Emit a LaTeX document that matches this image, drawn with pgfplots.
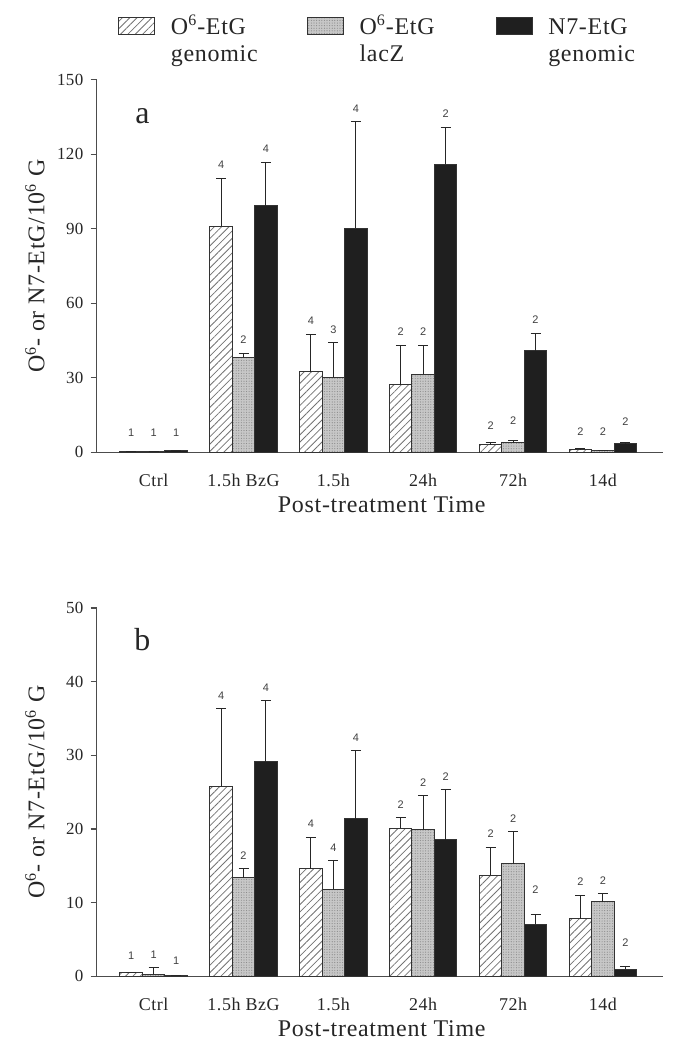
\documentclass[border=0pt]{standalone}
\usepackage{fontspec}
\setmainfont[LetterSpace=3]{Liberation Serif}
\newfontfamily\nfont{Liberation Sans}
\usepackage{pgfplots}
\pgfplotsset{compat=1.18}
\usepackage{pgfplotstable}
\usetikzlibrary{patterns.meta}

% columns: x = time point, y = adducts per 10^6 G, e = error (+), lo = label offset, n = replicates
\pgfplotstableread{
x y e lo n
0 0.3 0 2.1 1
1 91.0 19.4 19.4 4
2 32.5 15.1 15.1 4
3 27.1 16.0 16.0 2
4 3.0 0.9 2.5 2
5 1.0 0.3 1.8 2
}\aHat
\pgfplotstableread{
x y e lo n
0 0.1 0 2.2 1
1 38.2 1.6 1.6 2
2 30.1 13.9 13.9 3
3 31.4 11.6 11.6 2
4 3.8 0.9 3.5 2
5 0.5 0 2.2 2
}\aLac
\pgfplotstableread{
x y e lo n
0 0.5 0 1.9 1
1 99.2 17.7 17.7 4
2 90.3 42.9 42.9 4
3 116.1 14.8 14.8 2
4 40.9 7.1 7.1 2
5 3.3 0.5 3.6 2
}\aNs
\pgfplotstableread{
x y e lo n
0 0.45 0 0.6 1
1 25.8 10.5 10.5 4
2 14.6 4.3 4.3 4
3 20.1 1.4 1.4 2
4 13.7 3.8 3.8 2
5 7.8 3.2 3.2 2
}\bHat
\pgfplotstableread{
x y e lo n
0 0.27 0.9 0.9 1
1 13.4 1.2 1.2 2
2 11.8 3.9 3.9 4
3 19.9 4.6 4.6 2
4 15.3 4.3 4.3 2
5 10.1 1.1 1.1 2
}\bLac
\pgfplotstableread{
x y e lo n
0 0.14 0 0.13 1
1 29.1 8.3 8.3 4
2 21.4 9.2 9.2 4
3 18.5 6.8 6.8 2
4 7.05 1.35 2.85 2
5 0.95 0.35 1.8 2
}\bNs

\pgfplotsset{
  panel/.style={
    scale only axis, width=284pt,
    xmin=-0.636, xmax=5.674, ymin=0,
    axis x line*=bottom, axis y line*=left,
    axis line style={-, black!70, line width=0.6pt},
    xtick={0,...,5}, xticklabels={Ctrl,1.5h BzG,1.5h,24h,72h,14d},
    xtick style={draw=none},
    ytick style={black!70, line width=0.6pt},
    tick align=outside, major tick length=3pt,
    /pgf/number format/assume math mode=true,
    xticklabel style={font=\fontsize{9}{9}\selectfont, text=black!85, anchor=base, yshift=-14pt},
    yticklabel style={font=\fontsize{8.5}{8.5}\selectfont, text=black!85},
    xlabel={Post-treatment Time},
    xlabel style={at={(axis description cs:0.503,0)}, anchor=base, yshift=-30pt, font=\fontsize{12}{12}\selectfont, text=black!85},
    ylabel={O\textsuperscript{6}- or N7-EtG/10\textsuperscript{6} G},
    ylabel style={at={(axis description cs:-0.1086,0.5)}, anchor=center, font=\fontsize{12}{12}\selectfont, text=black!85},
    clip=false,
  },
  adbar/.style={
    ybar, bar width=0.25, bar shift=0, draw=black!80, line width=0.5pt,
    error bars/.cd, y dir=plus, y explicit,
      error bar style={black!85, line width=0.5pt},
      error mark options={rotate=90, black!85, line width=0.5pt, mark size=2.5pt},
    /pgfplots/.cd,
    point meta=explicit symbolic,
    visualization depends on={\thisrow{lo} \as \lo},
    nodes near coords,
    every node near coord/.append style={shift={(axis direction cs:0,\lo)}, anchor=south, yshift=4.5pt, inner sep=0pt, font=\nfont\fontsize{5.5}{5.5}\selectfont, text=black!75},
  },
  hatchbar/.style={adbar, pattern={Lines[angle=45, distance=2.6pt, line width=0.4pt]}, pattern color=black!55},
  lacbar/.style={adbar, fill=black!22, postaction={pattern={Dots[distance=1.3pt, radius=0.3pt]}, pattern color=black!45}},
  nsbar/.style={adbar, fill=black!88},
}

\begin{document}
\begin{tikzpicture}
\begin{axis}[panel, at={(0,0)}, anchor=south west, height=186.5pt,
  ymax=150, ytick={0,30,...,150},
  legend columns=3,
  legend image code/.code={\draw[#1] (0pt,0pt) rectangle (18pt,8.5pt);},
  legend style={at={(axis description cs:0.038,1.186)}, anchor=north west, draw=none, inner sep=0pt,
    font=\fontsize{12}{13.8}\selectfont, text=black!85,
    cells={anchor=base west, inner sep=0pt},
    /tikz/every odd column/.append style={column sep=5.8pt},
    /tikz/every even column/.append style={column sep=6.2pt}},
]
\addplot[hatchbar] table[x expr=\thisrow{x}-0.25, y=y, y error=e, meta=n] {\aHat};
\addlegendentry{\parbox[t]{60pt}{O\textsuperscript{6}-EtG\\genomic}}
\addplot[lacbar] table[x=x, y=y, y error=e, meta=n] {\aLac};
\addlegendentry{\parbox[t]{60pt}{O\textsuperscript{6}-EtG\\lacZ}}
\addplot[nsbar] table[x expr=\thisrow{x}+0.25, y=y, y error=e, meta=n] {\aNs};
\addlegendentry{\parbox[t]{60pt}{N7-EtG\\genomic}}
\node[font=\fontsize{16}{16}\selectfont, text=black!85] at (rel axis cs:0.081,0.903) {a};
\end{axis}

\begin{axis}[panel, at={(0,-262.5pt)}, anchor=south west, height=184.5pt,
  ymax=50, ytick={0,10,...,50},
]
\addplot[hatchbar] table[x expr=\thisrow{x}-0.25, y=y, y error=e, meta=n] {\bHat};
\addplot[lacbar] table[x=x, y=y, y error=e, meta=n] {\bLac};
\addplot[nsbar] table[x expr=\thisrow{x}+0.25, y=y, y error=e, meta=n] {\bNs};
\node[font=\fontsize{16}{16}\selectfont, text=black!85] at (rel axis cs:0.081,0.913) {b};
\end{axis}
\path[use as bounding box] (-48.35pt,-295pt) rectangle (284pt,226.5pt);
\end{tikzpicture}
\end{document}
